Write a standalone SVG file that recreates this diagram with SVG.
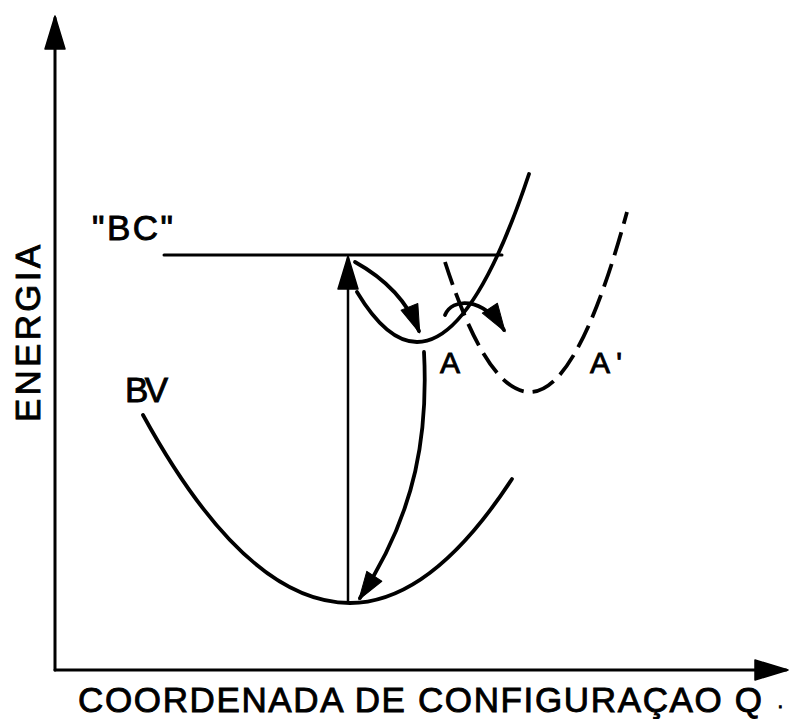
<svg xmlns="http://www.w3.org/2000/svg" width="792" height="719" viewBox="0 0 792 719">
<style>
.ln{fill:none;stroke:#000;stroke-linecap:round;stroke-linejoin:round}
.ax{stroke-width:3}
.cv{stroke-width:3.8}
.th{stroke-width:2.5}
.dash{stroke-dasharray:24 9;stroke-linecap:butt}
.t{font-family:"Liberation Sans","DejaVu Sans",Arial,sans-serif;fill:#000;stroke:#000;stroke-width:0.9}
</style>
<defs>
<marker id="big" markerUnits="userSpaceOnUse" markerWidth="40" markerHeight="30" refX="0" refY="0" orient="auto" viewBox="-34 -15 40 30" overflow="visible">
<path d="M2,0 L-31,-10 L-31,10 Z" fill="#000" stroke="#000" stroke-width="1.5" stroke-linejoin="round"/>
</marker>
<marker id="small" markerUnits="userSpaceOnUse" markerWidth="40" markerHeight="30" refX="0" refY="0" orient="auto" viewBox="-34 -15 40 30" overflow="visible">
<path d="M2,0 L-26,-9 L-26,9 Z" fill="#000" stroke="#000" stroke-width="1" stroke-linejoin="round"/>
</marker>
</defs>
<g id="axes">
<path class="ln ax" d="M55,670 L55,18" marker-end="url(#big)"/>
<path class="ln ax" d="M55,670 L786,670" marker-end="url(#big)"/>
</g>
<g id="labels">
<text class="t" x="78" y="712" font-size="35" textLength="684" lengthAdjust="spacing">COORDENADA DE CONFIGURAÇAO Q</text>
<text class="t" x="777" y="712" font-size="20">·</text>
<text class="t" transform="translate(40,422) rotate(-90)" x="0" y="0" font-size="35" textLength="177" lengthAdjust="spacing">ENERGIA</text>
</g>
<g id="BC">
<path class="ln ax" d="M164,255 L502,255"/>
<text class="t" x="92" y="240" font-size="35" textLength="81" lengthAdjust="spacing">"BC"</text>
</g>
<g id="BV">
<path class="ln cv" d="M143,415 Q246,603 350,603 Q431,603 512,479"/>
<text class="t" x="125" y="402" font-size="35" textLength="43" lengthAdjust="spacing">BV</text>
</g>
<g id="A">
<path class="ln cv" d="M357,292 Q387,342 417,342 Q473,342 529,174"/>
<text class="t" x="440" y="373" font-size="30" textLength="23" lengthAdjust="spacing">A</text>
</g>
<g id="A-prime">
<path class="ln cv dash" d="M445,262 Q487,392 530,392 Q578,392 627,212"/>
<text class="t" x="590" y="373" font-size="30" textLength="32" lengthAdjust="spacing">A'</text>
</g>
<g id="connectors">
<path class="ln th" d="M348,601 L348,258" marker-end="url(#big)"/>
<path class="ln cv" d="M355,262 Q402,288 419,331" marker-end="url(#small)"/>
<path class="ln cv" d="M445,315 C452,298 482,296 504,330" marker-end="url(#small)"/>
<path class="ln cv" d="M424,352 C428,430 418,510 360,598" marker-end="url(#small)"/>
</g>
</svg>
